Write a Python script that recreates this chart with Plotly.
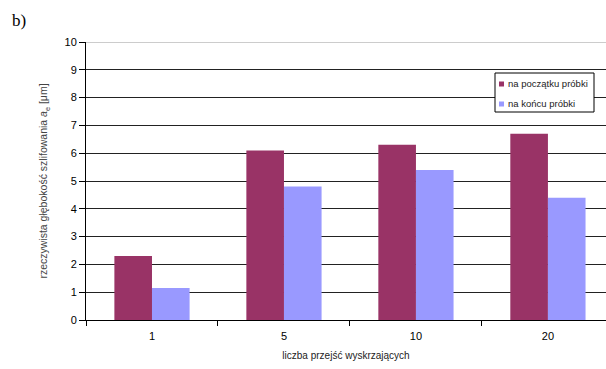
import plotly.graph_objects as go

# Data: grinding depth for each number of spark-out passes
categories = ["1", "5", "10", "20"]
start_values = [2.3, 6.1, 6.3, 6.7]    # na początku próbki
end_values = [1.15, 4.8, 5.4, 4.4]     # na końcu próbki
series_names = ["na początku próbki", "na końcu próbki"]
series_colors = ["#993366", "#9999FF"]
y_ticks = list(range(0, 11))

fig = go.Figure()
for name, vals, col in zip(series_names, [start_values, end_values], series_colors):
    fig.add_trace(go.Bar(x=categories, y=vals, name=name, showlegend=False,
                         marker=dict(color=col, line=dict(width=0))))

font_main = "Liberation Sans, Arial, sans-serif"

plot_left, plot_right, plot_top, plot_bottom = 86, 606, 42, 320
pw = plot_right - plot_left
ph = plot_bottom - plot_top


def px_x(x):
    return (x - plot_left) / pw


def px_y(y):
    return (plot_bottom - y) / ph


fig.update_layout(
    width=606, height=369,
    margin=dict(l=plot_left, r=606 - plot_right, t=plot_top, b=369 - plot_bottom,
                autoexpand=False),
    paper_bgcolor="white", plot_bgcolor="white",
    barmode="group", bargap=0.43, bargroupgap=0,
    font=dict(family=font_main, size=11, color="#000"),
    xaxis=dict(
        type="category", range=[-0.5, 3.44],
        showline=True, linecolor="#000", linewidth=1,
        ticks="outside", ticklen=5, tickcolor="#000", tickson="boundaries",
        showgrid=False, zeroline=False, ticklabelstandoff=6,
        tickfont=dict(size=11, color="#000"),
        title=dict(text="liczba przejść wyskrzających",
                   font=dict(size=10, color="#222"), standoff=10),
    ),
    yaxis=dict(
        range=[0, 10], tickvals=y_ticks,
        showline=True, linecolor="#000", linewidth=1,
        ticks="outside", ticklen=6, tickcolor="#000",
        showgrid=True, gridcolor="#222", gridwidth=1,
        zeroline=False,
        tickfont=dict(size=11, color="#000"),
        title=dict(text="rzeczywista głębokość szlifowania <i>a</i><sub>e</sub> [μm]",
                   font=dict(size=10.5, color="#444"), standoff=14),
    ),
)

# "b)" panel label
fig.add_annotation(text="b)", x=px_x(10), y=px_y(20), xref="paper", yref="paper",
                   xanchor="left", yanchor="middle", showarrow=False,
                   font=dict(family="Liberation Serif, Times New Roman, serif",
                             size=17, color="#000"))

# Light grey top border of the plotting area
fig.add_shape(type="line", xref="paper", yref="y", x0=0, x1=1, y0=10, y1=10,
              line=dict(color="#bbbbbb", width=1.5))

# Legend box with small square keys
fig.add_shape(type="rect", xref="paper", yref="paper",
              x0=px_x(495), x1=px_x(594), y0=px_y(112), y1=px_y(73),
              line=dict(color="#000", width=1), fillcolor="white", layer="above")
for i, (name, col) in enumerate(zip(series_names, series_colors)):
    cy = 84 + i * 20
    fig.add_shape(type="rect", xref="paper", yref="paper",
                  x0=px_x(499), x1=px_x(504), y0=px_y(cy + 2.5), y1=px_y(cy - 2.5),
                  line=dict(width=0), fillcolor=col, layer="above")
    fig.add_annotation(text=name, x=px_x(506), y=px_y(cy), xref="paper", yref="paper",
                       xanchor="left", yanchor="middle", showarrow=False,
                       font=dict(family=font_main, size=9.5, color="#222"))

fig.write_html("out.html")
